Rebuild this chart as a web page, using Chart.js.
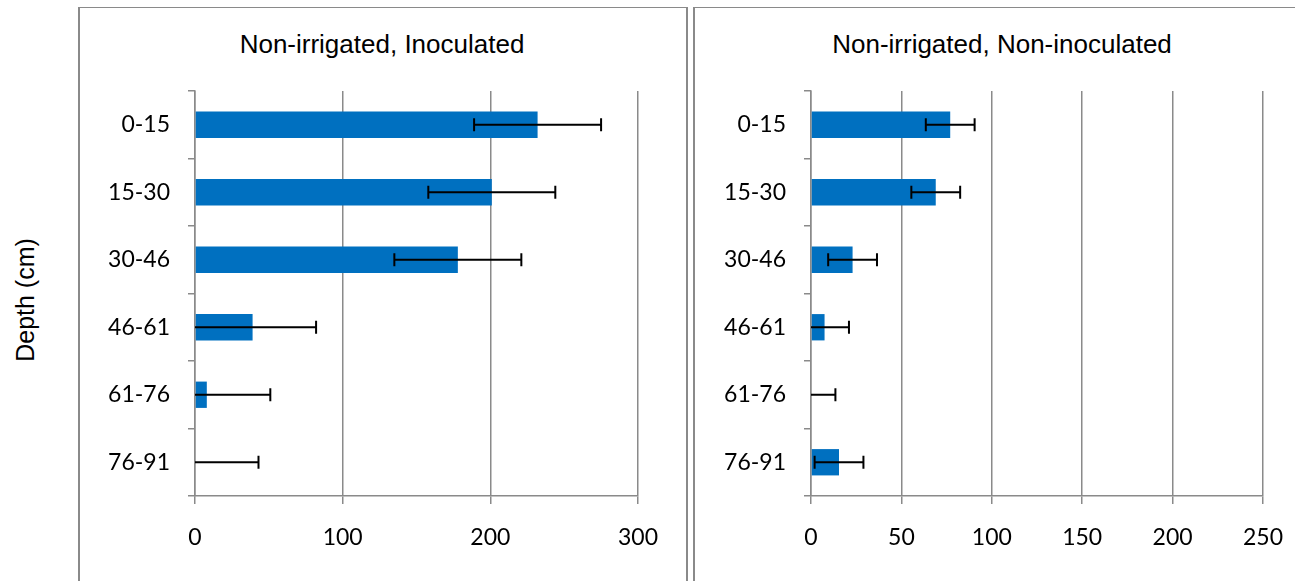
<!DOCTYPE html>
<html>
<head>
<meta charset="utf-8">
<script src="https://cdn.jsdelivr.net/npm/chart.js@4.4.1/dist/chart.umd.min.js"></script>
<style>
  body { margin: 0; background: #fff; overflow: hidden; width: 1295px; height: 581px; position: relative; }
  .panel { position: absolute; top: 7px; height: 640px; border-top: 1px solid #8a8a8a; border-left: 2px solid #8a8a8a; border-right: 2px solid #8a8a8a; box-sizing: border-box; }
  .title { position: absolute; top: 29px; height: 30px; line-height: 30px; text-align: center; white-space: nowrap;
           font-family: "Liberation Sans", Arial, sans-serif; font-size: 26px; color: #000; }
  canvas { position: absolute; top: 0; }
  #yTitle { position: absolute; left: -75px; top: 285px; width: 200px; height: 30px; line-height: 30px; text-align: center;
            font-family: "Liberation Sans", Arial, sans-serif; font-size: 25px; color: #000; transform: rotate(-90deg); }
</style>
</head>
<body>
<div class="panel" style="left:78px; width:610px;"></div>
<div class="panel" style="left:693px; width:640px;"></div>
<div class="title" style="left:78px; width:608px;">Non-irrigated, Inoculated</div>
<div class="title" style="left:693px; width:618px;">Non-irrigated, Non-inoculated</div>
<div id="yTitle">Depth (cm)</div>
<canvas id="leftChart" width="700" height="581" style="left:0px;"></canvas>
<canvas id="rightChart" width="624" height="581" style="left:690px;"></canvas>
<script>
// depth classes (cm), top of the profile first
const depths = ["0-15", "15-30", "30-46", "46-61", "61-76", "76-91"];

// non-irrigated, inoculated
const inoculated = [232, 201, 178, 39, 8, 0];
const inoculatedErr = [43, 43, 43, 43, 43, 43];

// non-irrigated, non-inoculated
const nonInoculated = [77, 69, 23, 7.5, 0, 15.5];
const nonInoculatedErr = [13.5, 13.5, 13.5, 13.5, 13.5, 13.5];

const leftTicks = [0, 100, 200, 300];
const rightTicks = [0, 50, 100, 150, 200, 250];

const gray = "#8a8a8a";
const barBlue = "#0070C0";

// draws the +/- error whiskers on top of the bars
let errorBarPlugin = {
    id: "errorBars",
    afterDatasetsDraw: (chart, args, opts) => {
        let ctx = chart.ctx;
        let xScale = chart.scales.x;
        let meta = chart.getDatasetMeta(0);
        let values = chart.data.datasets[0].data;
        ctx.save();
        ctx.strokeStyle = "#000";
        ctx.lineWidth = 2;
        meta.data.forEach((bar, i) => {
            let lo = values[i] - opts.errors[i];
            let hi = values[i] + opts.errors[i];
            let xLo = xScale.getPixelForValue(Math.max(lo, xScale.min));
            let xHi = xScale.getPixelForValue(hi);
            let y = bar.y;
            ctx.beginPath();
            ctx.moveTo(xLo, y);
            ctx.lineTo(xHi, y);
            ctx.moveTo(xHi, y - 6.5);
            ctx.lineTo(xHi, y + 6.5);
            // no cap when the lower end is cut off by the axis
            if (lo >= xScale.min) {
                ctx.moveTo(xLo, y - 6.5);
                ctx.lineTo(xLo, y + 6.5);
            }
            ctx.stroke();
        });
        ctx.restore();
    }
};

let makeChart = (id, values, errors, ticks, axisWidth, rightPad) => {
    return new Chart(document.getElementById(id), {
        type: "bar",
        data: {
            labels: depths,
            datasets: [{
                data: values,
                backgroundColor: barBlue,
                barPercentage: 0.39,
                categoryPercentage: 1
            }]
        },
        options: {
            indexAxis: "y",
            responsive: false,
            animation: false,
            layout: { padding: { left: 0, right: rightPad, top: 91, bottom: 0 } },
            plugins: {
                legend: { display: false },
                tooltip: { enabled: false },
                errorBars: { errors: errors }
            },
            scales: {
                x: {
                    min: ticks[0],
                    max: ticks[ticks.length - 1],
                    afterBuildTicks: (scale) => {
                        scale.ticks = ticks.map(v => ({ value: v }));
                    },
                    afterFit: (scale) => { scale.height = 85; },
                    grid: { color: gray, lineWidth: 1.5, tickLength: 8 },
                    border: { color: gray, width: 1.5 },
                    ticks: {
                        color: "#000",
                        padding: 20,
                        font: { family: "Lato", size: 23 }
                    }
                },
                y: {
                    afterFit: (scale) => { scale.width = axisWidth; },
                    grid: { drawOnChartArea: false, color: gray, lineWidth: 1.5, tickLength: 7, offset: true },
                    border: { color: gray, width: 1.5 },
                    ticks: {
                        color: "#000",
                        padding: 18,
                        font: { family: "Lato", size: 23 }
                    }
                }
            }
        },
        plugins: [errorBarPlugin]
    });
};

let leftChart = makeChart("leftChart", inoculated, inoculatedErr, leftTicks, 195, 62);
let rightChart = makeChart("rightChart", nonInoculated, nonInoculatedErr, rightTicks, 121, 51);
</script>
</body>
</html>
